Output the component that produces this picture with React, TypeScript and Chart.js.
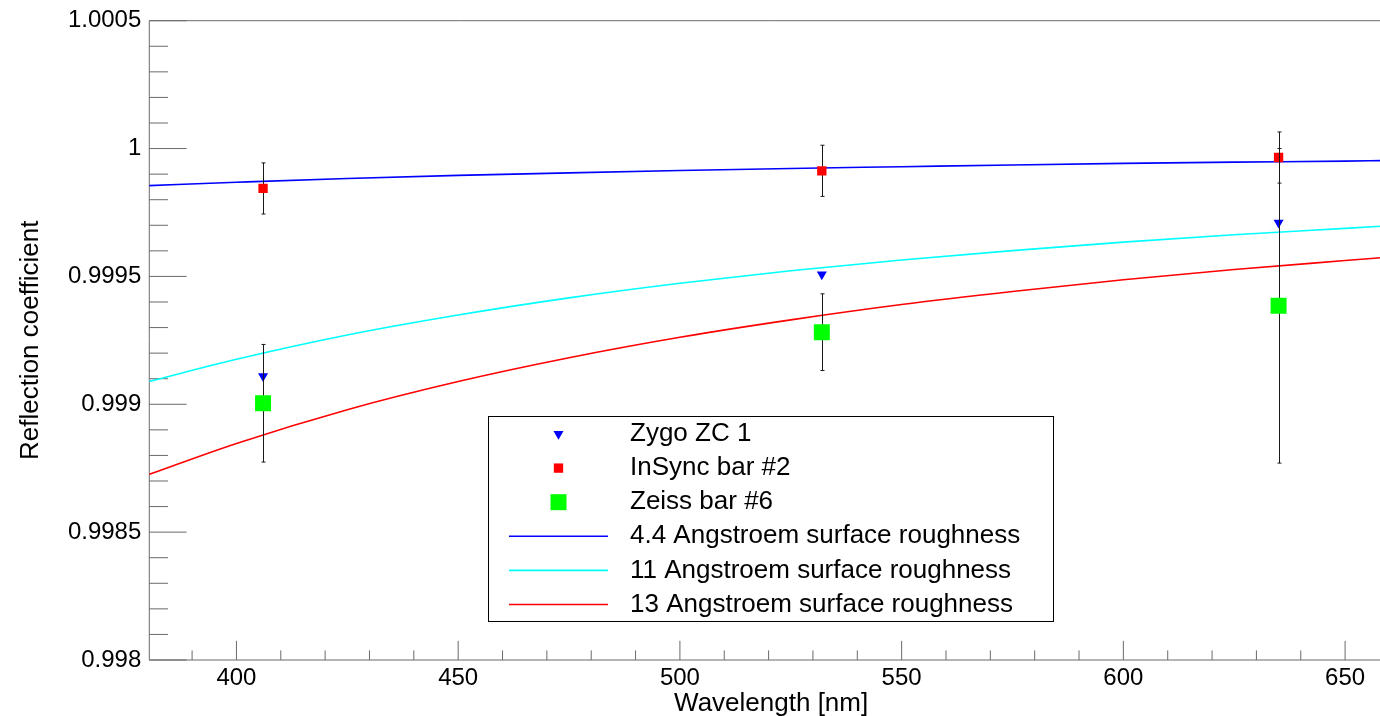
import React, { useEffect, useRef } from 'react';
import { Chart, registerables } from 'chart.js';

Chart.register(...registerables);

// ---- data ----
const WAVELENGTHS = [406, 532, 635];
const ZYGO = [0.99911, 0.999508, 0.99971];
const INSYNC = [0.999844, 0.999913, 0.999965];
const INSYNC_ERR = [0.0001, 0.0001, 0.0001];
const ZEISS = [0.999004, 0.999282, 0.999385];
const ZEISS_ERR = [0.00023, 0.00015, 0.000615];

const CURVE_WL = [380, 400, 425, 450, 475, 500, 525, 550, 575, 600, 625, 650, 658];
const ROUGH_4_4 = [0.999855, 0.999868, 0.999883, 0.999895, 0.999905, 0.999914, 0.999922, 0.999929, 0.999936, 0.999942, 0.999947, 0.999951, 0.999953];
const ROUGH_11 = [0.999088, 0.999176, 0.999271, 0.999349, 0.999416, 0.999473, 0.999522, 0.999564, 0.999601, 0.999634, 0.999663, 0.999688, 0.999696];
const ROUGH_13 = [0.998724, 0.998847, 0.998979, 0.999089, 0.999182, 0.999262, 0.99933, 0.99939, 0.999441, 0.999487, 0.999527, 0.999562, 0.999573];

const X_TICKS = [400, 450, 500, 550, 600, 650];
const X_TICK_LABELS = ['400', '450', '500', '550', '600', '650'];
const Y_TICKS = [0.998, 0.9985, 0.999, 0.9995, 1, 1.0005];
const Y_TICK_LABELS = ['0.998', '0.9985', '0.999', '0.9995', '1', '1.0005'];

const X_MIN = 380.35;
const X_MAX = 660.8;
const Y_MIN = 0.998;
const Y_MAX = 1.0005;

const FONT = '"Liberation Sans", Arial, Helvetica, sans-serif';
const AXIS_COLOR = '#6a6a6a';

const toXY = (xs: number[], ys: number[]) => xs.map((x, i) => ({ x, y: ys[i] }));

const noPad = (s: any) => {
  s.paddingLeft = 0;
  s.paddingRight = 0;
  s.paddingTop = 0;
  s.paddingBottom = 0;
};

const axisPlugin = {
  id: 'rootAxes',
  beforeDatasetsDraw(chart: any) {
    const { ctx, chartArea: a, scales } = chart;
    const xs = scales.x;
    const ys = scales.y;
    ctx.save();
    ctx.strokeStyle = AXIS_COLOR;
    ctx.lineWidth = 1;
    ctx.beginPath();
    ctx.moveTo(a.left, a.top);
    ctx.lineTo(a.left, a.bottom);
    ctx.lineTo(a.right, a.bottom);
    ctx.moveTo(a.left, a.top);
    ctx.lineTo(a.right, a.top);
    const yMajor = 0.03 * (a.right - a.left);
    const xMajor = 0.03 * (a.bottom - a.top);
    for (let k = 0; k <= 25; k++) {
      const v = Y_MIN + k * 0.0001;
      const y = ys.getPixelForValue(v);
      const len = k % 5 === 0 ? yMajor : yMajor / 2;
      ctx.moveTo(a.left, y);
      ctx.lineTo(a.left + len, y);
    }
    for (let v = 390; v <= X_MAX; v += 10) {
      const x = xs.getPixelForValue(v);
      const len = v % 50 === 0 ? xMajor : xMajor / 2;
      ctx.moveTo(x, a.bottom);
      ctx.lineTo(x, a.bottom - len);
    }
    ctx.stroke();
    ctx.restore();
  },
};

const errorBarPlugin = {
  id: 'errorBars',
  beforeDatasetDraw(chart: any, args: any) {
    const ds = chart.data.datasets[args.index];
    if (!ds.errorY) return;
    const { ctx, scales } = chart;
    const ys = scales.y;
    ctx.save();
    ctx.strokeStyle = '#1a1a1a';
    ctx.lineWidth = 1;
    args.meta.data.forEach((pt: any, i: number) => {
      const d = ds.data[i];
      const e = ds.errorY[i];
      const yt = ys.getPixelForValue(d.y + e);
      const yb = ys.getPixelForValue(d.y - e);
      const x = Math.round(pt.x) + 0.5;
      ctx.beginPath();
      ctx.moveTo(x, yt);
      ctx.lineTo(x, yb);
      ctx.moveTo(x - 2, yt);
      ctx.lineTo(x + 2, yt);
      ctx.moveTo(x - 2, yb);
      ctx.lineTo(x + 2, yb);
      ctx.stroke();
    });
    ctx.restore();
  },
};

const legendPlugin = {
  id: 'rootLegend',
  afterDraw(chart: any) {
    const { ctx } = chart;
    const box = { x: 488.5, y: 416.5, w: 565, h: 205 };
    ctx.save();
    ctx.fillStyle = '#ffffff';
    ctx.fillRect(box.x, box.y, box.w, box.h);
    ctx.strokeStyle = '#000000';
    ctx.lineWidth = 1;
    ctx.strokeRect(box.x, box.y, box.w, box.h);
    const rowY0 = 434;
    const rowStep = 34.1;
    const markX = 558.5;
    chart.data.datasets.forEach((ds: any, i: number) => {
      const y = rowY0 + i * rowStep;
      if (ds.showLine) {
        ctx.strokeStyle = ds.borderColor;
        ctx.lineWidth = ds.borderWidth;
        ctx.beginPath();
        ctx.moveTo(509, y);
        ctx.lineTo(608, y);
        ctx.stroke();
      } else {
        ctx.fillStyle = ds.backgroundColor;
        const r = ds.pointRadius;
        if (ds.pointStyle === 'triangle') {
          ctx.beginPath();
          ctx.moveTo(markX, y + r);
          ctx.lineTo(markX - r * 0.866, y - r / 2);
          ctx.lineTo(markX + r * 0.866, y - r / 2);
          ctx.closePath();
          ctx.fill();
        } else {
          const s = r * Math.SQRT1_2;
          ctx.fillRect(markX - s, y - s, 2 * s, 2 * s);
        }
      }
      ctx.fillStyle = '#000000';
      ctx.font = `26px ${FONT}`;
      ctx.textAlign = 'left';
      ctx.textBaseline = 'middle';
      ctx.fillText(ds.label, 630, y);
    });
    ctx.restore();
  },
};

export default function App() {
  const ref = useRef<HTMLCanvasElement | null>(null);
  useEffect(() => {
    if (!ref.current) return;
    const chart = new Chart(ref.current, {
      type: 'scatter',
      data: {
        datasets: [
          {
            label: 'Zygo ZC 1',
            data: toXY(WAVELENGTHS, ZYGO),
            pointStyle: 'triangle',
            rotation: 180,
            pointRadius: 5.8,
            backgroundColor: '#0000ff',
            borderWidth: 0,
            showLine: false,
            order: 3,
          } as any,
          {
            label: 'InSync bar #2',
            data: toXY(WAVELENGTHS, INSYNC),
            errorY: INSYNC_ERR,
            pointStyle: 'rect',
            pointRadius: 6.6,
            backgroundColor: '#ff0000',
            borderWidth: 0,
            showLine: false,
            order: 2,
          } as any,
          {
            label: 'Zeiss bar #6',
            data: toXY(WAVELENGTHS, ZEISS),
            errorY: ZEISS_ERR,
            pointStyle: 'rect',
            pointRadius: 11.3,
            backgroundColor: '#00ff00',
            borderWidth: 0,
            showLine: false,
            order: 1,
          } as any,
          {
            label: '4.4 Angstroem surface roughness',
            data: toXY(CURVE_WL, ROUGH_4_4),
            showLine: true,
            borderColor: '#0000ff',
            borderWidth: 1.6,
            pointRadius: 0,
            cubicInterpolationMode: 'monotone',
            order: 10,
          } as any,
          {
            label: '11 Angstroem surface roughness',
            data: toXY(CURVE_WL, ROUGH_11),
            showLine: true,
            borderColor: '#00ffff',
            borderWidth: 1.6,
            pointRadius: 0,
            cubicInterpolationMode: 'monotone',
            order: 10,
          } as any,
          {
            label: '13 Angstroem surface roughness',
            data: toXY(CURVE_WL, ROUGH_13),
            showLine: true,
            borderColor: '#ff0000',
            borderWidth: 1.6,
            pointRadius: 0,
            cubicInterpolationMode: 'monotone',
            order: 10,
          } as any,
        ],
      },
      options: {
        animation: false,
        responsive: false,
        events: [],
        layout: { autoPadding: false, padding: { top: 20.7, left: 0, right: 0, bottom: 0 } },
        plugins: { legend: { display: false }, tooltip: { enabled: false } },
        scales: {
          x: {
            type: 'linear',
            min: X_MIN,
            max: X_MAX,
            grid: { display: false, drawTicks: false },
            border: { display: false },
            afterBuildTicks: (s: any) => {
              s.ticks = X_TICKS.map((v) => ({ value: v }));
            },
            afterFit: (s: any) => {
              s.height = 56;
              noPad(s);
            },
            ticks: {
              autoSkip: false,
              maxRotation: 0,
              padding: 4,
              color: '#000',
              font: { family: FONT, size: 24 },
              callback: (v: any) => X_TICK_LABELS[X_TICKS.indexOf(Number(v))] ?? '',
            },
            title: {
              display: true,
              text: 'Wavelength [nm]',
              color: '#000',
              font: { family: FONT, size: 26, lineHeight: 0.9 },
              padding: { top: 0, bottom: 0.9 },
            },
          },
          y: {
            type: 'linear',
            min: Y_MIN,
            max: Y_MAX,
            grid: { display: false, drawTicks: false },
            border: { display: false },
            afterBuildTicks: (s: any) => {
              s.ticks = Y_TICKS.map((v) => ({ value: v }));
            },
            afterFit: (s: any) => {
              s.width = 149.3;
              noPad(s);
            },
            ticks: {
              autoSkip: false,
              padding: 8,
              color: '#000',
              font: { family: FONT, size: 24 },
              callback: (v: any) => {
                const idx = Y_TICKS.findIndex((t) => Math.abs(t - Number(v)) < 1e-9);
                return idx >= 0 ? Y_TICK_LABELS[idx] : '';
              },
            },
            title: {
              display: true,
              text: 'Reflection coefficient',
              color: '#000',
              font: { family: FONT, size: 26, lineHeight: 1.2 },
              padding: { top: 15.5, bottom: 0 },
            },
          },
        },
      } as any,
      plugins: [axisPlugin, errorBarPlugin, legendPlugin],
    });
    return () => chart.destroy();
  }, []);

  return (
    <div style={{ position: 'absolute', left: 0, top: 0, width: 1380, height: 716, overflow: 'hidden', background: '#fff' }}>
      <div style={{ width: 1393, height: 716 }}>
        <canvas ref={ref} width={1393} height={716} style={{ display: 'block', width: 1393, height: 716 }} />
      </div>
    </div>
  );
}
